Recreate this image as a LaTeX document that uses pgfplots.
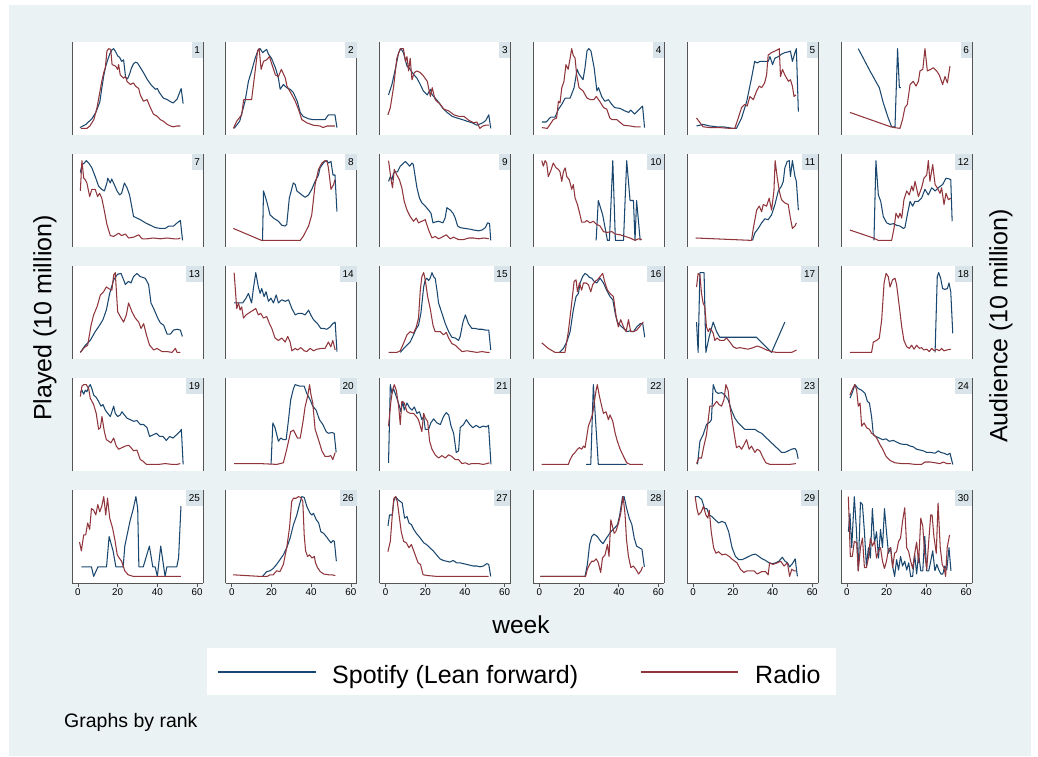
\documentclass[border=0pt]{standalone}
\usepackage{fontspec}
\setmainfont{Liberation Sans}
\usepackage{pgfplots}
\pgfplotsset{compat=1.18}
\definecolor{sblue}{RGB}{26,71,111}
\definecolor{sred}{RGB}{144,53,59}
\definecolor{bgc}{RGB}{234,242,243}
\definecolor{labc}{RGB}{217,228,234}
\definecolor{axc}{RGB}{85,85,85}
\pgfplotsset{
 panel/.style={scale only axis, width=131pt, height=93pt, xmin=-3, xmax=63, ymin=-8.3, ymax=108.3,
   axis line style={draw=none}, xtick=\empty, ytick=\empty, clip=false, anchor=north west,
   axis background/.style={fill=white}},
 bot/.style={xtick={0,20,40,60}, tick align=outside, xtick pos=left, major tick length=4pt,
   tick style={draw=axc, line width=0.6pt},
   xticklabel style={font=\fontsize{9.8}{10}\selectfont, inner sep=1.5pt},
   /pgf/number format/assume math mode=true,
   extra description/.code={\draw[axc, line width=0.6pt] (0,0)--(1,0);}}
}
\tikzset{lab/.style={anchor=north east, fill=labc, inner xsep=2.8pt, inner ysep=0pt, minimum height=15.5pt,
   font=\fontsize{10}{10}\selectfont}}
\newcommand{\panel}[6]{%
\begin{axis}[panel, at={(#1,#2)}, #6]
\addplot[sblue, line width=1.05pt, line join=round] coordinates {#4};
\addplot[sred, line width=1.05pt, line join=round] coordinates {#5};
\draw[axc, line width=0.7pt] (rel axis cs:0,0) -- (rel axis cs:0,1);
\draw[axc, line width=0.7pt] (rel axis cs:1,0) -- (rel axis cs:1,1);
\node[lab] at (rel axis cs:1,1) {#3};
\end{axis}}
\begin{document}
\begin{tikzpicture}
\path[use as bounding box] (0,0) rectangle (1038pt,-756pt);
\fill[white] (0,0) rectangle (1038pt,-756pt);
\fill[bgc] (9pt,-5pt) rectangle (1031pt,-756pt);
% row 1
\panel{72pt}{-42pt}{1}{(1,1)(4,5)(7,12)(9,20)(11,33)(12,50)(13,66)(14,78)(15,86)(16,93)(17,98)(18,100)(19,96)(20,91)(21,89)(22,84)(23,86)(24,64)(25,62)(26,68)(27,76)(28,81)(29,83)(30,82)(31,78)(33,70)(35,61)(37,54)(39,49)(40,50)(41,45)(43,38)(45,36)(47,33)(48,32)(50,37)(52,50)(53,31)}
{(1.5,0)(4.5,0)(6,3)(8,11)(9.6,26)(11,45)(12,59)(13,70)(13.8,76)(14.6,97)(15.5,100)(16.5,99)(17.2,80)(19,78)(20,74)(20.5,80)(21.3,67)(23,63)(24,65)(24.7,59)(26.4,55)(28,57)(29,53)(30.6,50)(31.4,42)(33,34)(34.8,36)(36.5,26)(38,18)(40,15)(41.5,11)(43,9)(45,5)(46.6,3)(48,2)(50,3)(51.6,3)}{}
\panel{225.8pt}{-42pt}{2}{(1.2,0)(4,9)(6.7,34)(8.4,59)(10,72)(11.8,88)(13.4,99)(14.3,100)(15.6,95)(16.5,97)(17.6,99)(18.5,93)(20,88)(22,76)(23.5,63)(24.4,49)(26,55)(27.7,51)(29.4,49)(31,45)(33,34)(34.5,20)(36,15)(38.7,12)(41,11)(44.5,11)(47,11)(48.7,17)(51,17)(52,17)(53,1)}
{(0.8,0)(2.5,9)(5,17)(6,36)(7.5,36)(10,36)(11.8,72)(13,97)(13.8,100)(14.8,74)(16,84)(17.6,86)(19,90)(20,82)(22,67)(23.5,65)(25,74)(27,63)(27.8,53)(30.3,42)(32,34)(33.6,24)(35.3,11)(37.8,7)(41,4)(44.5,3)(46,1)(48,3)(50.5,3)(52,3)}{}
\panel{379.6pt}{-42pt}{3}{(1.5,42)(3.2,55)(4.9,74)(6.6,95)(7.7,100)(9,95)(10.8,78)(12.4,74)(14,68)(15.8,63)(17.5,55)(19,47)(21,42)(22.6,49)(23.5,42)(25,38)(27,32)(28.6,26)(31,20)(33.6,15)(36,13)(38.7,11)(41,9)(43.7,7)(46,4)(49,7)(50.5,10)(52,17)(53,0)}
{(1.2,17)(2.4,26)(4,51)(5.7,88)(7.4,100)(9,100)(10,84)(10.8,90)(11.6,72)(12.4,88)(13.3,61)(14.5,70)(15.8,72)(17.5,70)(19,66)(21,59)(22.6,40)(23.5,51)(25,36)(27.6,30)(29.4,24)(31.8,22)(34.4,17)(37,15)(39.5,15)(42,10)(44.5,7)(46,8)(47.5,0)(49,3)(50.5,4)(52,4)}{}
\panel{533.4pt}{-42pt}{4}{(1.3,8)(3.4,8)(5.7,14)(7.9,14)(9.6,24)(11.3,30)(13,38)(15.5,38)(17.5,51)(19,74)(20,68)(22,61)(23,76)(24,97)(24.9,100)(26,97)(27.6,76)(29,47)(29.8,51)(31.4,40)(33,34)(34.8,36)(36.5,30)(38,26)(40.7,25)(43,22)(45,20)(46,23)(48,18)(50.8,25)(52,28)(53,1)}
{(1.3,1)(4,0)(5.4,5)(7,11)(8.7,13)(9.6,34)(10.4,32)(11.3,51)(12.4,59)(13.4,80)(14.5,74)(15.5,88)(16.3,100)(17,92)(18,88)(18.8,67)(20,51)(22,47)(24,38)(25.7,36)(27.4,36)(28.7,40)(30.4,34)(32.4,26)(34,24)(35.5,13)(36.6,11)(39,11)(42.4,4)(45.8,3)(48.2,2)(51,2)}{}
\panel{687.2pt}{-42pt}{5}{(1.7,3)(5,5)(8.4,3)(11.8,2)(15,2)(20.2,0)(21.8,0)(24.4,13)(27,34)(29.4,63)(31,84)(32.3,82)(33.6,84)(36,84)(37.8,84)(38.7,90)(40,80)(41.2,88)(42.9,90)(44.5,93)(46.2,95)(48,96)(49,97)(50,84)(51.3,95)(52,100)(53,21)}
{(1.7,13)(5,2)(8.4,1)(13.4,1)(18.5,0)(21,0)(22.7,13)(24.4,26)(26,30)(27.2,28)(28.6,40)(30.3,36)(32,47)(33.3,53)(34.5,51)(36,57)(37,67)(37.8,92)(39.5,95)(41.2,97)(42.9,99)(43.4,100)(44,65)(45,74)(46.2,67)(48,59)(49,61)(50,53)(50.8,40)(51.8,42)}{}
\panel{841pt}{-42pt}{6}{(5.7,100)(11.6,72)(16.3,51)(18.3,32)(20.8,13)(22.5,2)(24.2,2)(25.5,100)(26.4,51)(27.2,51)}
{(1.5,20)(22,2)(24,1)(26.7,0)(28,11)(29.2,26)(30.4,30)(31.8,55)(33.4,59)(34.8,53)(36,59)(36.8,72)(38.2,74)(39.3,100)(40.5,72)(42.2,74)(43.5,76)(45.2,72)(46.5,67)(48.2,55)(49.4,65)(50.6,57)(51.9,78)}{}
% row 2
\panel{72pt}{-154pt}{7}{(1.2,85)(2,95)(3.2,97)(4.2,100)(5.4,97)(7,91)(8.7,80)(10.4,68)(12,64)(13.3,62)(14.6,72)(15,78)(16.3,72)(17,77)(18.3,70)(19.7,62)(21,57)(22,59)(23.4,72)(24.7,66)(26,57)(27.2,41)(28,30)(29.7,28)(31.4,26)(34,22)(36.5,19)(39,16)(41.5,15)(44,15)(45.8,18)(48.2,18)(50,22)(51.6,25)(52.7,0)}
{(1.2,62)(2,100)(2.9,78)(3.7,76)(4.5,72)(5.9,55)(7,64)(8.7,64)(9.9,55)(10.9,59)(12,53)(13,41)(14.6,20)(16.3,6)(18,5)(20.5,9)(22,6)(23.9,8)(25.5,3)(28,4)(30.6,7)(32.3,2)(34.8,2)(38,3)(41.5,2)(44.8,3)(48.2,2)(50.6,2)(51.6,3)}{}
\panel{225.8pt}{-154pt}{8}{(15.5,0)(16,62)(17.6,49)(19.3,32)(21,28)(23.5,24)(25.2,19)(26.9,18)(27.7,20)(29,53)(31,72)(32,70)(32.8,62)(35.3,57)(37,54)(38.7,57)(40.3,64)(42,74)(43.7,82)(44.5,91)(46.2,97)(47,99)(48,100)(48.7,97)(50,99)(51,82)(52,82)(53,36)}
{(0.8,15)(15,0)(21,0)(27.7,0)(32,0)(34.5,0)(36,5)(38.7,18)(40.3,32)(42,70)(43.7,89)(45.4,97)(47,100)(48,99)(48.7,91)(50,64)(51.3,70)(52,76)}{}
\panel{379.6pt}{-154pt}{9}{(1.5,74)(2.4,80)(3.2,76)(4,84)(4.9,86)(6,86)(7.4,93)(10,99)(10.8,97)(12.1,93)(13.3,97)(14,95)(15.8,66)(17.1,53)(18.3,47)(20,43)(21.7,38)(22.9,34)(23.9,22)(25,23)(26.7,24)(28.9,22)(30,28)(30.9,41)(32.6,38)(34,34)(35.1,28)(36.3,18)(37.6,16)(40,15)(42.7,14)(44.4,13)(46.9,12)(48.6,13)(50.3,16)(51.4,22)(52.4,21)(53,0)}
{(1.5,100)(2.9,74)(3.5,66)(4.4,89)(5.7,82)(7,76)(8.2,66)(9.4,49)(10.8,38)(12.4,30)(14.1,24)(15.5,28)(16.6,22)(18.3,24)(20,26)(21.7,13)(23.4,3)(25,5)(26.7,2)(28.4,4)(30.6,7)(32.6,2)(34.3,4)(36.8,1)(39.3,1)(41.9,3)(44.4,3)(46.9,2)(49.5,3)(52,2)}{}
\panel{533.4pt}{-154pt}{10}{(28.6,0)(29.7,50)(31.9,32)(34.3,0)(35.3,0)(37,100)(38.3,0)(42.4,0)(44,100)(45.7,50)(47.4,50)(48.2,0)(49,50)(50.8,0)}
{(1.2,100)(2,93)(2.9,100)(3.7,97)(4.5,80)(5.7,87)(7,97)(8.4,91)(9.6,89)(10.4,86)(11.3,74)(12.1,86)(13,91)(13.8,80)(15.1,76)(16.3,64)(17.1,70)(18,53)(19.2,45)(20.5,32)(21.3,23)(23,23)(23.9,25)(25.5,22)(27.2,24)(28.9,20)(30.6,18)(32.3,11)(34,10)(36.5,11)(38.2,8)(40.7,7)(43.2,5)(45.7,3)(48.2,0)(49.9,2)(51.6,1)}{}
\panel{687.2pt}{-154pt}{11}{(29.9,0)(31,9)(32.8,15)(34.5,22)(36.1,27)(37.8,26)(39.5,32)(41.2,45)(42.9,62)(44.5,68)(45.4,74)(46.2,91)(47.4,99)(48.4,100)(49,80)(50,100)(51.3,80)(52,74)(53,38)}
{(1.3,3)(29.4,0)(30.3,15)(32,38)(33.3,43)(34.5,36)(35.3,45)(37,43)(38.3,53)(39.5,38)(40.7,62)(41.3,100)(42.4,78)(43.4,62)(44.5,51)(46.2,47)(47.9,45)(49,28)(50,15)(51.3,18)(52,22)}{}
\panel{841pt}{-154pt}{12}{(13.6,0)(14.6,100)(15.8,57)(17,49)(18.3,30)(20,22)(21.7,20)(23.4,21)(25,19)(26.7,18)(28.4,15)(29.2,16)(30.4,32)(31.8,49)(33.1,43)(34.3,49)(36,49)(37.6,53)(39.3,64)(41,57)(42.7,66)(44.4,62)(46,66)(48.2,70)(49.9,78)(51.6,77)(52.3,76)(53,24)}
{(1.5,13)(13.3,3)(15.8,0)(18.3,0)(22.5,0)(23.7,15)(24.7,34)(25.9,28)(26.7,34)(27.6,28)(28.7,51)(30.1,62)(31.4,57)(32.6,68)(33.4,62)(34.3,74)(36,55)(37.6,66)(38.8,78)(40.2,82)(41,100)(41.8,74)(43.2,95)(44.4,70)(45.5,66)(46.9,59)(47.7,66)(48.9,45)(49.9,59)(51.1,51)(52.3,53)}{}
% row 3
\panel{72pt}{-266pt}{13}{(1.2,0)(3.7,9)(6.2,15)(8.7,26)(10.9,34)(12.6,41)(14.3,53)(16,74)(18,91)(20,98)(21.7,99)(23,91)(23.9,85)(25.5,89)(26.7,87)(28,95)(29.7,99)(31.4,95)(33.9,93)(35.6,85)(36.8,62)(38.5,53)(40.2,43)(41.5,37)(43.2,34)(44.9,23)(46.6,23)(48.2,28)(49.9,29)(51.6,28)(52.6,20)}
{(1.2,0)(3.2,6)(4.9,9)(6.6,34)(7.9,47)(9.6,57)(11.3,72)(12.9,76)(14.3,82)(15.5,80)(17.1,78)(18,97)(18.8,100)(20,51)(21.3,45)(23,38)(24.4,47)(25.5,62)(27.2,51)(28.9,43)(30.6,38)(31.8,30)(33.1,36)(34.5,22)(36.1,9)(38.2,3)(39.8,5)(42.4,1)(44.9,1)(47.4,0)(49.1,5)(49.9,0)(51.6,0)}{}
\panel{225.8pt}{-266pt}{14}{(1.2,62)(2.5,62)(4.2,62)(5.5,62)(7.2,68)(8.4,74)(9.2,68)(10,62)(10.9,80)(12.1,100)(13.4,82)(14.3,74)(15.1,80)(16.3,70)(17.3,76)(18.5,64)(19.7,68)(21,62)(22.4,72)(23.5,62)(25.2,66)(26.9,64)(28.6,66)(30.3,55)(32,47)(33.6,49)(35.3,49)(37,47)(38.7,53)(39.8,47)(41.2,41)(43.2,36)(44.9,30)(46.2,30)(47.9,29)(49.6,32)(50.9,36)(52.1,38)(53,1)}
{(1.2,100)(2.5,55)(3.4,62)(4.2,53)(5,57)(5.9,43)(7.2,47)(8.4,49)(9.6,51)(10.9,53)(12.1,55)(13.4,47)(14.6,49)(16,43)(17.6,45)(19,36)(20.2,30)(21.8,18)(23.5,15)(25.2,18)(26.9,13)(28.2,20)(29.4,13)(30.3,2)(32,5)(33.1,3)(34.8,6)(36.5,2)(37.8,1)(39.5,5)(41.2,2)(42.9,4)(45.4,5)(47,5)(48.7,13)(49.9,7)(50.9,15)(52.1,3)}{}
\panel{379.6pt}{-266pt}{15}{(7.4,0)(9.9,7)(12.4,13)(14.1,22)(15.5,30)(16.6,34)(17.8,49)(19.2,82)(20,91)(20.8,93)(21.7,90)(22.5,93)(23.4,100)(24.2,95)(25,93)(25.9,78)(26.7,62)(28.4,49)(30.1,36)(31.8,26)(33.4,19)(35.1,18)(36.8,15)(37.6,20)(39,38)(40.2,47)(41.8,36)(43.5,30)(45.2,30)(46.9,29)(48.6,29)(50.3,28)(52,28)(53,3)}
{(1.5,0)(5.7,0)(7.4,2)(9,11)(10.8,22)(12.4,26)(14.1,24)(15.5,32)(16.6,43)(17.5,78)(18.3,95)(19.2,100)(20,91)(21.2,70)(22.5,55)(23.9,34)(25,26)(27.6,26)(29.2,22)(30.6,25)(31.8,18)(33.4,11)(35.1,9)(36.8,5)(38.5,1)(41,2)(43.5,1)(46,0)(48.6,1)(51.1,0)(52.4,0)}{}
\panel{533.4pt}{-266pt}{16}{(10.1,0)(12.1,5)(13.8,13)(15.5,26)(17.1,53)(18.5,70)(19.7,74)(20.5,87)(21.8,95)(23,99)(24.2,97)(25.2,94)(26.4,93)(27.6,89)(28.9,87)(30.6,93)(32.3,87)(33.9,78)(35.6,70)(37,66)(38.2,49)(39.3,38)(40.7,34)(42.4,30)(44,26)(45.7,27)(47.4,26)(49.1,32)(50.8,36)(52.1,36)(53.1,19)}
{(1.2,12)(4.5,5)(7.9,0)(10.4,0)(12.9,0)(14.6,26)(16.3,62)(17.5,89)(18.5,91)(19.2,76)(20.2,87)(21.3,78)(22.2,87)(23.5,87)(24.7,85)(25.9,76)(26.9,85)(28.1,89)(29.2,91)(30.6,95)(31.9,99)(33.1,87)(34.3,78)(35.6,74)(37.3,70)(38.7,45)(39.8,32)(41,41)(42.4,32)(43.7,26)(44.9,41)(46,26)(47.4,26)(49.1,28)(50.4,32)(51.6,36)(52.4,38)}{}
\panel{687.2pt}{-266pt}{17}{(1.7,38)(2.5,0)(3.4,100)(5.5,100)(6.4,0)(8.1,20)(10.1,38)(11.8,26)(13.4,19)(15.1,19)(31.9,19)(39.5,0)(46.2,38)}
{(1.7,82)(2.5,99)(3.4,97)(4.2,74)(5,62)(5.9,57)(6.7,32)(7.6,26)(8.4,30)(9.2,28)(10.1,24)(10.9,15)(12.1,18)(13.4,15)(15.5,15)(16.8,18)(18.5,13)(20.2,7)(21.8,5)(23.5,6)(25.5,5)(27.7,4)(30.3,6)(32.3,8)(34.5,6)(37,3)(39.5,1)(42,0)(45.4,0)(47.9,0)(49.6,0)(51.3,2)(52.1,3)}{}
\panel{841pt}{-266pt}{18}{(44.4,0)(45.5,95)(46.2,100)(47.2,93)(48.2,80)(49.4,79)(50.6,80)(51.4,87)(52.3,76)(53.3,24)}
{(1.5,0)(12.4,0)(13.3,13)(15,15)(16.3,18)(17.5,41)(18.7,87)(19.7,99)(20.8,95)(21.7,82)(23,91)(24.2,93)(25,85)(26.4,57)(27.6,32)(28.7,15)(30.1,7)(31.4,5)(32.6,9)(33.8,4)(35.1,9)(36.5,5)(37.6,6)(38.8,3)(40.2,4)(41.5,1)(42.7,5)(43.9,2)(45.2,4)(46.5,2)(47.7,5)(48.9,2)(50.3,3)(52.3,4)}{}
% row 4
\panel{72pt}{-378pt}{19}{(1.2,90)(2,93)(2.9,88)(3.7,93)(4.5,91)(5.4,97)(6.2,100)(7,95)(7.9,87)(9.2,84)(10.4,79)(11.6,73)(12.6,75)(13.8,68)(15,64)(16.3,60)(17.1,66)(18,73)(18.8,64)(20,60)(21.3,62)(22.2,66)(23.4,62)(24.7,58)(26.4,56)(28.1,54)(29.7,55)(31.4,50)(33.1,50)(34.8,46)(36.1,35)(37.8,37)(39.5,39)(41.2,35)(42.9,35)(44.5,30)(46.2,35)(47.9,33)(49.6,37)(51.3,41)(52.1,44)(53,0)}
{(1.2,85)(2,98)(2.9,100)(4.2,100)(5.4,95)(6.2,83)(7.9,75)(9.2,64)(10.4,44)(11.3,46)(12.1,60)(13.3,41)(14.3,31)(15.5,29)(16.6,27)(18,33)(19.3,23)(20.5,19)(22.2,21)(23.9,23)(25.5,24)(26.7,21)(28.1,17)(29.7,18)(31.4,6)(32.8,4)(34.5,0)(37.3,0)(40.7,0)(44,1)(47.4,0)(49.9,0)(51.6,1)}{}
\panel{225.8pt}{-378pt}{20}{(19.8,0)(20.7,52)(21.8,46)(23.5,29)(24.7,33)(26,31)(27.4,31)(28.6,56)(29.7,81)(31.1,95)(31.9,100)(34.5,98)(36.5,98)(37.8,89)(39.5,81)(40.8,73)(42.5,68)(44.2,56)(45.9,50)(47.6,41)(48.7,39)(50.4,40)(51.6,39)(52.6,15)}
{(1.2,1)(14.3,1)(22.7,0)(26,2)(27.7,19)(29.7,41)(31.1,43)(33.1,33)(34.5,33)(35.8,52)(37,73)(38.2,85)(39.2,100)(39.8,89)(40.8,77)(42,44)(43.7,31)(45.4,17)(47,10)(48.7,10)(49.9,11)(50.9,6)(52.1,15)}{}
\panel{379.6pt}{-378pt}{21}{(1.5,2)(2.4,100)(3.2,89)(4,95)(5.7,83)(7,73)(7.7,66)(8.7,79)(9.4,68)(10.8,77)(12.1,71)(13.3,68)(14.5,72)(15.8,64)(17.1,66)(18.3,56)(19.2,60)(20,44)(21.7,44)(22.8,52)(24.2,57)(25.9,52)(27.6,50)(29.2,60)(30.6,65)(31.8,62)(33,48)(34.3,39)(35.6,15)(36.8,17)(37.6,46)(39.3,50)(40.7,56)(42.4,50)(44,46)(45.7,49)(47.4,46)(49.1,48)(50.8,47)(51.9,49)(53.1,0)}
{(1.5,48)(2.7,79)(3.5,93)(4.4,100)(5.4,93)(6.6,73)(7.4,50)(8.2,79)(9.4,77)(10.8,66)(12.4,64)(14.1,64)(15.5,60)(16.6,56)(17.5,48)(18.3,41)(19.2,64)(20,58)(21.2,54)(22.2,29)(23.4,19)(25,12)(26.7,8)(28.4,11)(30.1,8)(31.8,12)(33.4,10)(35.1,6)(36.8,6)(38.5,1)(40.2,2)(41.9,0)(43.5,1)(45.2,1)(46.9,1)(49.1,0)(51.1,1)(52.4,2)}{}
\panel{533.4pt}{-378pt}{22}{(23.5,0)(25.9,0)(27.2,100)(29.7,0)(44,0)}
{(1.2,0)(14.6,0)(15.5,6)(16.8,12)(18,15)(19.2,19)(20.2,21)(21.3,19)(22.2,23)(23,21)(23.9,35)(24.7,48)(25.9,56)(26.9,64)(27.6,77)(28.6,93)(29.2,100)(30.3,85)(31.4,73)(32.3,64)(33.6,66)(34.8,56)(35.6,62)(37,54)(38.2,39)(39.3,29)(40.7,19)(42.4,10)(44,2)(45.7,0)(48.2,0)(50.8,0)(52.1,0)}{}
\panel{687.2pt}{-378pt}{23}{(2.2,0)(3.4,29)(5,37)(6.7,50)(8.4,53)(9.2,56)(10.1,100)(11.4,91)(12.6,89)(14.3,90)(16,87)(17.6,81)(19.3,68)(21,58)(22.7,52)(24.4,48)(26,44)(27.7,44)(29.4,44)(31.1,44)(32.8,41)(34.5,39)(36.1,35)(37.8,31)(39.5,27)(41.2,23)(42.9,19)(44.5,15)(46.2,15)(47.9,17)(49.6,19)(51.3,20)(52.1,17)(52.9,7)}
{(1.7,1)(2.9,8)(4.2,8)(5.4,23)(6.7,37)(8.4,73)(10.1,73)(11.8,79)(13.1,75)(14.3,73)(15.5,81)(16.5,100)(17.6,93)(18.5,73)(20.2,46)(21.8,21)(23.2,23)(24.4,19)(25.5,24)(26.9,31)(28.2,19)(29.4,23)(31.1,15)(32.3,19)(33.6,17)(34.9,10)(36.6,2)(38.7,0)(42,0)(45.4,0)(48.7,0)(51.8,1)}{}
\panel{841pt}{-378pt}{24}{(1.5,83)(2.7,90)(4,100)(5.7,95)(7.4,93)(9.1,89)(10.3,79)(11.3,77)(12.4,60)(13.3,37)(14.6,35)(16.3,33)(18,31)(19.7,32)(21.3,29)(23.4,30)(25,28)(26.7,26)(28.4,25)(30.1,25)(31.8,23)(33.4,22)(35.1,19)(36.8,18)(38.5,17)(40.2,15)(42.2,15)(44.4,14)(46,17)(47.2,15)(48.9,14)(50.6,12)(51.9,14)(53.3,0)}
{(1.5,87)(2.9,95)(4,100)(4.9,93)(5.7,73)(6.6,77)(7.4,48)(8.6,52)(9.9,46)(11.3,44)(12.4,39)(13.6,37)(15,33)(16.6,25)(18,19)(19.7,10)(21.7,5)(24.2,2)(27.6,1)(30.9,1)(34.3,0)(37.6,0)(39.3,3)(41.9,3)(44.4,2)(46.9,1)(48.6,3)(50.3,1)(52.3,1)}{}
% row 5
\panel{72pt}{-490pt}{25}{(1.7,12)(6.8,12)(7.9,0)(10.1,12)(14.4,12)(15.7,50)(17.7,32)(19.1,12)(22.8,12)(23.6,38)(26.2,69)(27.9,85)(29.2,100)(30.1,85)(30.7,12)(32.9,12)(36,38)(37.7,12)(38.9,12)(40,0)(41.7,38)(43.9,0)(44.8,12)(49.8,12)(50.7,23)(51.9,88)}
{(0.8,43)(1.7,32)(2.9,52)(3.9,52)(4.9,67)(5.9,59)(6.8,85)(7.9,83)(9,77)(10,90)(11,81)(12,88)(13,100)(14,77)(14.9,98)(16,73)(17.4,61)(18.6,46)(19.8,27)(20.8,23)(22,19)(23.6,7)(25.3,2)(27.9,0)(32.9,0)(41.4,0)(49.8,0)(51.9,0)}{bot}
\panel{225.8pt}{-490pt}{26}{(15.5,0)(17.6,6)(19.3,7)(20.9,10)(22.6,15)(24.3,21)(26,27)(27.7,36)(29.4,48)(31.1,65)(32.8,77)(34.1,90)(35.3,100)(36.5,99)(37.8,88)(38.7,83)(39.5,79)(40.4,77)(41.2,79)(42.6,71)(43.8,67)(44.9,56)(46.3,54)(47.6,50)(48.8,46)(50,42)(51,45)(51.7,44)(52.7,19)}
{(0.7,2)(7.4,1)(14.2,0)(17.9,0)(19.3,2)(20.9,2)(22.6,7)(24.3,6)(26,15)(27.7,36)(29.1,61)(30.2,94)(31.1,98)(32.4,98)(33.6,100)(34.8,99)(35.8,94)(36.5,52)(37.2,32)(38.2,25)(39.2,27)(40.4,23)(41.6,25)(42.2,17)(43.2,11)(44.6,6)(46.3,3)(48.8,2)(50.5,2)(52.2,1)}{bot}
\panel{379.6pt}{-490pt}{27}{(1.2,63)(2,77)(3.4,77)(4.1,94)(5.1,100)(6.3,96)(7.4,94)(8.4,92)(9.6,73)(10.8,75)(11.8,67)(13,65)(14.2,59)(15.5,54)(16.9,50)(18.1,46)(19.3,42)(20.6,40)(22.3,36)(24,32)(25.7,27)(27.4,22)(29.1,20)(30.7,19)(32.4,18)(34.1,20)(35.8,17)(37.5,17)(39.2,16)(40.9,15)(42.6,14)(44.3,13)(46,13)(47.6,12)(49.3,13)(51,16)(52,15)(53,0)}
{(1.2,31)(2.4,44)(3.4,77)(4.2,98)(5.1,100)(5.9,94)(6.8,77)(7.9,56)(9.1,44)(10.5,42)(11.8,36)(13,40)(14.2,32)(15.5,23)(16.4,17)(17.6,15)(18.9,2)(21.5,1)(25.7,0)(32.4,0)(39.2,0)(46,0)(51.9,0)}{bot}
\panel{533.4pt}{-490pt}{28}{(0.5,0)(23,0)(24.2,15)(25.3,40)(26.4,50)(27.5,53)(29.2,50)(30.9,44)(32.1,41)(33.8,48)(36,56)(37.7,60)(39.4,65)(40.5,77)(41.9,100)(42.7,100)(43.9,86)(45.3,73)(46.6,65)(47.8,48)(49,38)(50.3,36)(51.7,34)(52.9,12)}
{(0.5,0)(23.3,0)(24.2,9)(25.3,15)(26.4,19)(27.5,19)(28.7,22)(29.7,17)(30.9,5)(31.8,23)(33.1,27)(34.3,40)(35.1,25)(36,71)(36.8,63)(37.7,54)(38.5,56)(39.9,67)(41,79)(42.2,100)(43.2,77)(43.9,46)(44.9,25)(46.1,11)(47.3,13)(48.6,9)(50,3)(51.2,7)(52,12)}{bot}
\panel{687.2pt}{-490pt}{29}{(1,100)(2.7,100)(4.4,96)(5.7,85)(6.9,85)(8.1,77)(9.5,75)(11.1,71)(12.8,67)(14.5,69)(16.2,67)(17.9,56)(19.6,36)(21.3,25)(23,21)(24.7,21)(26.4,23)(28,25)(29.7,27)(31.4,28)(33.1,25)(34.8,22)(36.5,20)(38.2,17)(39.9,16)(41.6,17)(43.2,19)(44.9,24)(46.3,19)(47.5,17)(48.6,12)(50,16)(51.4,22)(52.5,0)}
{(1,100)(1.9,85)(2.7,77)(4.1,81)(5.2,88)(6.4,77)(7.4,73)(8.1,83)(9.1,56)(10.3,36)(11.5,29)(12.8,31)(14.5,27)(16.2,28)(18.2,25)(19.9,21)(22.1,17)(23.8,9)(25.5,5)(27.2,7)(28.9,7)(30.6,7)(32.3,3)(34.5,6)(36.5,6)(37.8,2)(38.5,17)(40.2,15)(42.4,17)(44.1,19)(45.8,13)(47.5,17)(48.6,0)(49.7,9)(50.8,7)(51.7,7)}{bot}
\panel{841pt}{-490pt}{30}{(0.7,56)(1.5,79)(2.4,36)(3.7,100)(4.7,61)(5.7,7)(6.8,93)(7.8,90)(8.8,56)(9.8,13)(10.8,36)(11.8,23)(12.8,85)(13.9,42)(14.9,56)(15.9,23)(16.9,59)(17.9,36)(18.9,85)(19.9,56)(20.9,29)(22,36)(23,13)(24,0)(25,21)(26,8)(27,25)(28,13)(29.1,19)(30.1,8)(31.1,17)(32.1,0)(33.1,0)(34.1,28)(35.1,3)(36.1,28)(37.2,7)(38.2,7)(39.2,50)(40.2,7)(41.2,7)(42.2,19)(43.2,32)(44.3,7)(45.3,15)(46.3,8)(47.3,3)(48.3,3)(49.3,13)(50.3,8)(51.4,36)(52.4,7)}
{(0.7,100)(1.7,25)(2.7,25)(3.7,44)(4.9,42)(5.7,7)(6.8,36)(7.8,48)(8.8,11)(9.8,11)(10.8,23)(11.8,48)(12.8,38)(13.9,44)(14.9,23)(15.9,32)(16.9,36)(17.9,19)(18.9,10)(19.9,19)(20.9,34)(22,36)(23,11)(24,29)(25,31)(26,44)(27,48)(28,69)(29.1,86)(30.1,36)(31.1,31)(32.1,19)(33.1,10)(34.1,28)(35.1,43)(36.1,17)(37.2,73)(38.2,63)(39.2,27)(40.2,9)(41.2,44)(42.2,77)(42.9,77)(43.8,50)(45,29)(45.9,92)(47,36)(48,15)(49,10)(49.7,0)(50.5,36)(51.7,52)}{bot}
% titles
\node[rotate=90, inner sep=0pt, font=\fontsize{25}{25}\selectfont] at (45pt,-318pt) {Played (10 million)};
\node[rotate=90, inner sep=0pt, font=\fontsize{25}{25}\selectfont] at (1001pt,-326pt) {Audience (10 million)};
\node[inner sep=0pt, anchor=base, font=\fontsize{24.5}{25}\selectfont] at (521pt,-633pt) {week};
% legend
\fill[white] (207pt,-648pt) rectangle (836pt,-695pt);
\draw[sblue, line width=2.4pt] (218pt,-672pt) -- (316pt,-672pt);
\node[anchor=base west, inner sep=0pt, font=\fontsize{25}{25}\selectfont] at (332pt,-683pt) {Spotify (Lean forward)};
\draw[sred, line width=2.4pt] (641pt,-672pt) -- (738pt,-672pt);
\node[anchor=base west, inner sep=0pt, font=\fontsize{25}{25}\selectfont] at (755pt,-683pt) {Radio};
\node[anchor=base west, inner sep=0pt, font=\fontsize{19.5}{20}\selectfont] at (64pt,-727pt) {Graphs by rank};
\end{tikzpicture}
\end{document}
